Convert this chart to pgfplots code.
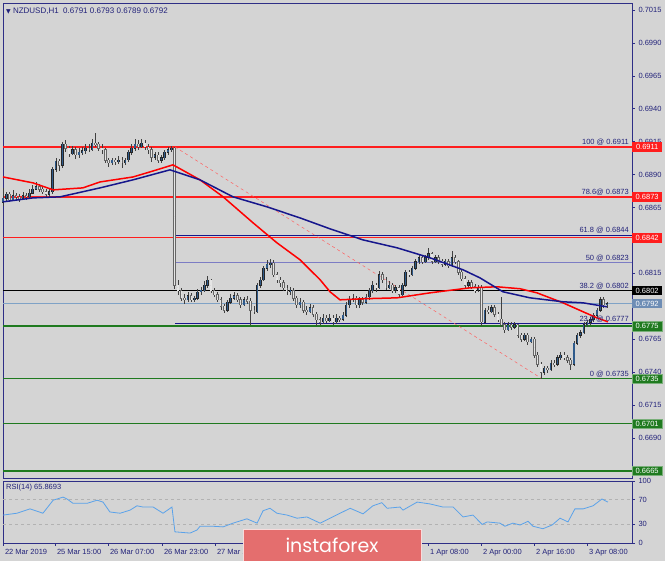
\documentclass[border=0pt]{standalone}
\usepackage{fontspec}
\setmainfont{Liberation Sans}
\newfontfamily\symfont{DejaVu Sans}
\newfontfamily\logofont{Poppins}
\usepackage{pgfplots}
\pgfplotsset{compat=1.18}
\usepackage{pgfplotstable}

\definecolor{bg}{HTML}{D4D4D4}
\definecolor{frame}{HTML}{2E2E86}
\definecolor{txt}{HTML}{22227A}
\definecolor{fibred}{HTML}{FF1E1E}
\definecolor{lvlgreen}{HTML}{1F7A1F}
\definecolor{maRed}{HTML}{FF0000}
\definecolor{maBlue}{HTML}{16168C}
\definecolor{lightline}{HTML}{7FA2C6}
\definecolor{lav}{HTML}{7C7CC4}
\definecolor{rsi}{HTML}{5AA2EA}
\definecolor{bull}{HTML}{2F5B8C}
\definecolor{logo}{HTML}{E46E6E}
\definecolor{boxblue}{HTML}{6E8DB5}

\pgfplotstableread{
i o h l c
0 0.6869 0.6880 0.6866 0.6872
1 0.6872 0.6877 0.6869 0.6875
2 0.6875 0.6877 0.6869 0.6871
3 0.6871 0.6878 0.6870 0.6874
4 0.6874 0.6876 0.6871 0.6873
5 0.6873 0.6875 0.6869 0.6872
6 0.6872 0.6877 0.6871 0.6874
7 0.6874 0.6876 0.6871 0.6873
8 0.6873 0.6879 0.6872 0.6876
9 0.6876 0.6882 0.6875 0.6879
10 0.6879 0.6884 0.6878 0.6881
11 0.6881 0.6883 0.6877 0.6879
12 0.6879 0.6881 0.6875 0.6877
13 0.6877 0.6879 0.6872 0.6875
14 0.6875 0.6880 0.6873 0.6877
15 0.6877 0.6896 0.6875 0.6894
16 0.6894 0.6903 0.6892 0.6900
17 0.6900 0.6902 0.6893 0.6897
18 0.6897 0.6915 0.6895 0.6913
19 0.6913 0.6916 0.6907 0.6910
20 0.6910 0.6912 0.6903 0.6906
21 0.6906 0.6912 0.6905 0.6909
22 0.6909 0.6911 0.6902 0.6905
23 0.6905 0.6910 0.6903 0.6907
24 0.6907 0.6911 0.6905 0.6908
25 0.6908 0.6913 0.6906 0.6910
26 0.6910 0.6913 0.6907 0.6909
27 0.6909 0.6917 0.6908 0.6914
28 0.6914 0.6922 0.6911 0.6913
29 0.6913 0.6915 0.6908 0.6910
30 0.6910 0.6913 0.6906 0.6909
31 0.6909 0.6910 0.6899 0.6901
32 0.6901 0.6903 0.6896 0.6899
33 0.6899 0.6903 0.6897 0.6901
34 0.6901 0.6903 0.6897 0.6900
35 0.6900 0.6904 0.6898 0.6901
36 0.6901 0.6903 0.6895 0.6899
37 0.6899 0.6903 0.6897 0.6901
38 0.6901 0.6909 0.6900 0.6907
39 0.6907 0.6913 0.6905 0.6910
40 0.6910 0.6917 0.6908 0.6913
41 0.6913 0.6916 0.6909 0.6911
42 0.6911 0.6917 0.6910 0.6914
43 0.6914 0.6916 0.6909 0.6911
44 0.6911 0.6913 0.6906 0.6909
45 0.6909 0.6911 0.6900 0.6903
46 0.6903 0.6907 0.6901 0.6905
47 0.6905 0.6907 0.6899 0.6901
48 0.6901 0.6905 0.6899 0.6903
49 0.6903 0.6909 0.6901 0.6907
50 0.6907 0.6911 0.6905 0.6909
51 0.6909 0.6912 0.6907 0.6910
52 0.6910 0.6911 0.6803 0.6806
53 0.6806 0.6810 0.6799 0.6802
54 0.6802 0.6804 0.6794 0.6796
55 0.6796 0.6799 0.6792 0.6795
56 0.6795 0.6801 0.6793 0.6798
57 0.6798 0.6800 0.6793 0.6795
58 0.6795 0.6798 0.6793 0.6796
59 0.6796 0.6803 0.6795 0.6801
60 0.6801 0.6805 0.6799 0.6802
61 0.6802 0.6809 0.6801 0.6806
62 0.6806 0.6813 0.6804 0.6810
63 0.6810 0.6811 0.6800 0.6802
64 0.6802 0.6804 0.6797 0.6799
65 0.6799 0.6801 0.6793 0.6795
66 0.6795 0.6797 0.6787 0.6790
67 0.6790 0.6792 0.6785 0.6787
68 0.6787 0.6795 0.6786 0.6793
69 0.6793 0.6799 0.6792 0.6796
70 0.6796 0.6801 0.6795 0.6798
71 0.6798 0.6800 0.6793 0.6795
72 0.6795 0.6797 0.6789 0.6791
73 0.6791 0.6797 0.6790 0.6795
74 0.6795 0.6798 0.6792 0.6794
75 0.6794 0.6796 0.6776 0.6787
76 0.6787 0.6790 0.6784 0.6786
77 0.6786 0.6808 0.6785 0.6806
78 0.6806 0.6812 0.6804 0.6810
79 0.6810 0.6821 0.6809 0.6819
80 0.6819 0.6825 0.6817 0.6822
81 0.6822 0.6826 0.6819 0.6823
82 0.6823 0.6825 0.6812 0.6814
83 0.6814 0.6816 0.6808 0.6810
84 0.6810 0.6812 0.6805 0.6808
85 0.6808 0.6810 0.6802 0.6804
86 0.6804 0.6806 0.6799 0.6801
87 0.6801 0.6805 0.6799 0.6802
88 0.6802 0.6804 0.6794 0.6796
89 0.6796 0.6798 0.6789 0.6791
90 0.6791 0.6796 0.6789 0.6793
91 0.6793 0.6795 0.6785 0.6787
92 0.6787 0.6790 0.6783 0.6786
93 0.6786 0.6792 0.6785 0.6789
94 0.6789 0.6791 0.6782 0.6784
95 0.6784 0.6786 0.6775 0.6780
96 0.6780 0.6782 0.6776 0.6778
97 0.6778 0.6784 0.6777 0.6781
98 0.6781 0.6783 0.6777 0.6779
99 0.6779 0.6784 0.6778 0.6781
100 0.6781 0.6783 0.6776 0.6778
101 0.6778 0.6784 0.6777 0.6781
102 0.6781 0.6783 0.6778 0.6780
103 0.6780 0.6786 0.6779 0.6783
104 0.6783 0.6793 0.6782 0.6791
105 0.6791 0.6798 0.6789 0.6795
106 0.6795 0.6799 0.6793 0.6796
107 0.6796 0.6798 0.6789 0.6791
108 0.6791 0.6797 0.6789 0.6795
109 0.6795 0.6797 0.6791 0.6793
110 0.6793 0.6799 0.6792 0.6797
111 0.6797 0.6804 0.6795 0.6802
112 0.6802 0.6809 0.6800 0.6806
113 0.6806 0.6808 0.6801 0.6804
114 0.6804 0.6817 0.6803 0.6814
115 0.6814 0.6816 0.6808 0.6810
116 0.6810 0.6812 0.6802 0.6804
117 0.6804 0.6809 0.6803 0.6806
118 0.6806 0.6808 0.6800 0.6802
119 0.6802 0.6806 0.6800 0.6804
120 0.6804 0.6806 0.6797 0.6799
121 0.6799 0.6808 0.6798 0.6806
122 0.6806 0.6818 0.6805 0.6816
123 0.6816 0.6818 0.6812 0.6814
124 0.6814 0.6821 0.6813 0.6819
125 0.6819 0.6826 0.6818 0.6824
126 0.6824 0.6830 0.6822 0.6827
127 0.6827 0.6829 0.6822 0.6824
128 0.6824 0.6829 0.6823 0.6827
129 0.6827 0.6834 0.6825 0.6830
130 0.6830 0.6831 0.6822 0.6824
131 0.6824 0.6829 0.6823 0.6827
132 0.6827 0.6829 0.6822 0.6824
133 0.6824 0.6826 0.6820 0.6822
134 0.6822 0.6826 0.6821 0.6824
135 0.6824 0.6826 0.6819 0.6821
136 0.6821 0.6832 0.6820 0.6827
137 0.6827 0.6829 0.6822 0.6824
138 0.6824 0.6825 0.6814 0.6816
139 0.6816 0.6818 0.6809 0.6811
140 0.6811 0.6813 0.6803 0.6806
141 0.6806 0.6810 0.6804 0.6808
142 0.6808 0.6810 0.6803 0.6805
143 0.6805 0.6807 0.6800 0.6802
144 0.6802 0.6806 0.6801 0.6804
145 0.6804 0.6806 0.6775 0.6778
146 0.6778 0.6789 0.6777 0.6787
147 0.6787 0.6790 0.6784 0.6786
148 0.6786 0.6791 0.6785 0.6789
149 0.6789 0.6791 0.6782 0.6784
150 0.6784 0.6786 0.6778 0.6780
151 0.6780 0.6797 0.6774 0.6776
152 0.6776 0.6778 0.6770 0.6772
153 0.6772 0.6778 0.6771 0.6776
154 0.6776 0.6778 0.6772 0.6774
155 0.6774 0.6778 0.6773 0.6776
156 0.6776 0.6777 0.6766 0.6768
157 0.6768 0.6770 0.6763 0.6765
158 0.6765 0.6770 0.6764 0.6768
159 0.6768 0.6770 0.6761 0.6763
160 0.6763 0.6767 0.6762 0.6765
161 0.6765 0.6767 0.6751 0.6753
162 0.6753 0.6755 0.6744 0.6746
163 0.6746 0.6748 0.6735 0.6740
164 0.6740 0.6745 0.6738 0.6743
165 0.6743 0.6745 0.6739 0.6742
166 0.6742 0.6749 0.6741 0.6747
167 0.6747 0.6749 0.6744 0.6746
168 0.6746 0.6753 0.6745 0.6751
169 0.6751 0.6755 0.6749 0.6753
170 0.6753 0.6755 0.6749 0.6751
171 0.6751 0.6753 0.6747 0.6749
172 0.6749 0.6751 0.6742 0.6746
173 0.6746 0.6764 0.6745 0.6762
174 0.6762 0.6770 0.6761 0.6768
175 0.6768 0.6772 0.6766 0.6770
176 0.6770 0.6778 0.6769 0.6776
177 0.6776 0.6780 0.6774 0.6778
178 0.6778 0.6782 0.6776 0.6780
179 0.6780 0.6785 0.6778 0.6783
180 0.6783 0.6789 0.6782 0.6787
181 0.6787 0.6797 0.6786 0.6795
182 0.6795 0.6797 0.6789 0.6791
183 0.6791 0.6793 0.6789 0.6792
}\candles

\newcommand{\lab}{\fontsize{7.5}{9}\selectfont}
\pgfplotsset{candlebase/.style={only marks, mark=none, mark size=0pt, forget plot, unbounded coords=discard,
  error bars/.cd, y dir=both, y explicit, error mark=none}}

\begin{document}
\begin{tikzpicture}
\fill[bg] (0pt,0pt) rectangle (665pt,561pt);
\useasboundingbox (0pt,0pt) rectangle (665pt,561pt);

% ---------------- main price panel ----------------
\begin{axis}[
  at={(3pt,83pt)}, anchor=south west, scale only axis,
  width=629pt, height=475pt,
  xmin=0, xmax=190.6, ymin=0.66596, ymax=0.70203,
  clip=false,
  axis line style={frame, line width=0.9pt},
  xtick=\empty,
  ytick={0.6690,0.6715,0.6740,0.6765,0.6790,0.6815,0.6840,0.6865,0.6890,0.6915,0.6940,0.6965,0.6990,0.7015},
  ytick pos=right, yticklabel pos=right, tick align=outside,
  major tick length=3pt,
  tick style={frame, line width=0.6pt},
  scaled y ticks=false,
  yticklabel style={font=\lab, text=txt, /pgf/number format/.cd, fixed, fixed zerofill, precision=4, assume math mode=true},
]
% horizontal levels
\addplot[fibred, line width=1.4pt] coordinates {(0,0.6911) (190.6,0.6911)};
\addplot[fibred, line width=1.4pt] coordinates {(0,0.6873) (190.6,0.6873)};
\addplot[fibred, line width=1.4pt] coordinates {(0,0.6842) (190.6,0.6842)};
\addplot[maBlue, line width=0.8pt] coordinates {(52.1,0.6844) (190.6,0.6844)};
\addplot[lav, line width=1.1pt] coordinates {(52.1,0.6823) (190.6,0.6823)};
\addplot[black, line width=1.3pt] coordinates {(0,0.6802) (190.6,0.6802)};
\addplot[lightline, line width=0.8pt] coordinates {(0,0.6792) (190.6,0.6792)};
\addplot[lvlgreen, line width=1.4pt] coordinates {(0,0.6775) (190.6,0.6775)};
\addplot[maBlue, line width=1pt] coordinates {(52.1,0.6777) (190.6,0.6777)};
\addplot[lvlgreen, line width=1.4pt] coordinates {(0,0.6735) (190.6,0.6735)};
\addplot[lvlgreen, line width=1.4pt] coordinates {(0,0.6701) (190.6,0.6701)};
\addplot[lvlgreen, line width=1.4pt] coordinates {(0,0.6665) (190.6,0.6665)};
\addplot[fibred!70, dashed, line width=0.5pt] coordinates {(52.1,0.6911) (163.3,0.6735)};

% wicks
\addplot[candlebase, error bar style={line width=0.6pt, draw=black!75}]
  table[x=i, y expr={(\thisrow{h}+\thisrow{l})/2}, y error expr={(\thisrow{h}-\thisrow{l})/2}] {\candles};
% bear bodies
\addplot[candlebase, error bar style={line width=2.5pt, draw=black!60}]
  table[x=i, y expr={\thisrow{c}<\thisrow{o} ? (\thisrow{o}+\thisrow{c})/2 : nan}, y error expr={(\thisrow{o}-\thisrow{c})/2+0.00003}] {\candles};
\addplot[candlebase, error bar style={line width=1.2pt, draw=white!90!black}]
  table[x=i, y expr={\thisrow{c}<\thisrow{o} ? (\thisrow{o}+\thisrow{c})/2 : nan}, y error expr={(\thisrow{o}-\thisrow{c})/2}] {\candles};
% bull bodies
\addplot[candlebase, error bar style={line width=2.5pt, draw=black!85}]
  table[x=i, y expr={\thisrow{c}<\thisrow{o} ? nan : (\thisrow{o}+\thisrow{c})/2}, y error expr={(\thisrow{c}-\thisrow{o})/2+0.00003}] {\candles};
\addplot[candlebase, error bar style={line width=1.2pt, draw=bull}]
  table[x=i, y expr={\thisrow{c}<\thisrow{o} ? nan : (\thisrow{o}+\thisrow{c})/2}, y error expr={(\thisrow{c}-\thisrow{o})/2}] {\candles};

% moving averages
\addplot[maRed, line width=1.5pt] coordinates {
(0,0.68882) (9.1,0.68837) (15.2,0.68784) (24.2,0.68799) (29.4,0.68844) (39.4,0.68882)
(44.5,0.68920) (51.5,0.68974) (59.7,0.68860) (66.7,0.68731) (75.8,0.68533) (83,0.68382)
(90,0.68253) (96.1,0.68101) (99.1,0.68010) (102.1,0.67949) (109.1,0.67957) (119.4,0.67964)
(129.4,0.68002) (141.5,0.68040) (149.7,0.68048) (156.7,0.68033) (161.8,0.68002)
(169.7,0.67926) (175.8,0.67858) (180,0.67812) (183.3,0.67782)};
\addplot[maBlue, line width=1.5pt] coordinates {
(0,0.68693) (9.1,0.68723) (17.3,0.68731) (29.4,0.68799) (39.4,0.68860) (50.6,0.68936)
(59.7,0.68860) (69.7,0.68731) (80,0.68655) (90,0.68571) (99.1,0.68488) (109.1,0.68404)
(119.4,0.68344) (129.4,0.68268) (139.4,0.68177) (144.5,0.68116) (151.5,0.68010)
(159.7,0.67964) (169.7,0.67934) (175.8,0.67926) (183,0.67896)};

% fibonacci texts
\begin{scope}[every node/.style={anchor=south east, font=\lab, text=txt, inner sep=1pt}]
\node at (axis cs:190,0.6911) {100 @ 0.6911};
\node at (axis cs:190,0.6873) {78.6@ 0.6873};
\node at (axis cs:190,0.6844) {61.8 @ 0.6844};
\node at (axis cs:190,0.6823) {50 @ 0.6823};
\node at (axis cs:190,0.6802) {38.2 @ 0.6802};
\node at (axis cs:190,0.6777) {23.6 @ 0.6777};
\node at (axis cs:190,0.6735) {0 @ 0.6735};
\end{scope}
\node[anchor=west, font=\fontsize{8}{9.5}\selectfont, text=txt, inner sep=0pt] at (axis cs:0.9,0.70142) {{\symfont\fontsize{6}{7}\selectfont ▼}\ NZDUSD,H1\ \ 0.6791 0.6793 0.6789 0.6792};

\coordinate (b1) at (axis cs:190.6,0.6911);
\coordinate (b2) at (axis cs:190.6,0.6873);
\coordinate (b3) at (axis cs:190.6,0.6842);
\coordinate (b4) at (axis cs:190.6,0.6802);
\coordinate (b5) at (axis cs:190.6,0.6792);
\coordinate (b6) at (axis cs:190.6,0.6775);
\coordinate (b7) at (axis cs:190.6,0.6735);
\coordinate (b8) at (axis cs:190.6,0.6701);
\coordinate (b9) at (axis cs:190.6,0.6665);
\end{axis}

% price boxes
\begin{scope}[every node/.style={anchor=west, font=\lab, text=white, inner sep=1pt, minimum width=30pt, minimum height=9.5pt, text depth=0pt, align=left}]
\node[fill=fibred] at (b1) {0.6911};
\node[fill=fibred] at (b2) {0.6873};
\node[fill=fibred] at (b3) {0.6842};
\node[fill=black] at (b4) {0.6802};
\node[fill=boxblue] at (b5) {0.6792};
\node[fill=lvlgreen, draw=lvlgreen!60!white] at (b6) {0.6775};
\node[fill=lvlgreen, draw=lvlgreen!60!white] at (b7) {0.6735};
\node[fill=lvlgreen, draw=lvlgreen!60!white] at (b8) {0.6701};
\node[fill=lvlgreen, draw=lvlgreen!60!white] at (b9) {0.6665};
\end{scope}

% ---------------- RSI panel ----------------
\begin{axis}[
  at={(3pt,18pt)}, anchor=south west, scale only axis,
  width=629pt, height=62pt,
  xmin=0, xmax=190.6, ymin=0, ymax=100,
  clip=false,
  axis line style={frame, line width=0.9pt},
  ytick={0,30,70,100},
  ytick pos=right, yticklabel pos=right, tick align=outside,
  major tick length=3pt,
  tick style={frame, line width=0.6pt},
  yticklabel style={font=\lab, text=txt, /pgf/number format/assume math mode=true},
  xtick={0,15.76,31.82,48.18,64.24,80.3,96.36,112.42,128.79,144.85,160.91,176.97},
  xticklabels={22 Mar 2019,25 Mar 15:00,26 Mar 07:00,26 Mar 23:00,27 Mar 15:00,28 Mar 07:00,28 Mar 23:00,29 Mar 15:00,1 Apr 08:00,2 Apr 00:00,2 Apr 16:00,3 Apr 08:00},
  xtick pos=lower,
  xticklabel style={font=\lab, text=txt, anchor=north west, xshift=-1.5pt},
]
\addplot[black!30, dashed, line width=0.5pt] coordinates {(0,70) (190.6,70)};
\addplot[black!30, dashed, line width=0.5pt] coordinates {(0,30) (190.6,30)};
\addplot[rsi, line width=0.8pt] coordinates {
(0,45) (4.2,48) (8.2,55) (12.1,48) (15.2,69) (18.2,74) (19.4,71) (21.2,64) (25.5,64)
(28.5,69) (30.3,66) (32.4,50) (35.5,48) (38.5,53) (40.6,60) (42.4,58) (45.5,58) (48.5,48)
(51.2,58) (52.1,18) (56.7,16) (58.8,21) (59.7,27) (63.6,27) (66.7,26) (69.7,32) (73.9,39)
(77,32) (78.8,52) (80.9,56) (83,48) (86.1,45) (89.1,40) (92.1,42) (96.1,32) (99.1,40)
(105.2,56) (109.1,47) (112.1,60) (114.8,65) (116.4,56) (120.3,58) (121.2,53) (125.5,66)
(129.4,63) (133.3,58) (136.4,58) (139.4,42) (142.4,45) (145.2,30) (146.7,34) (150.6,32)
(152.1,27) (154.5,32) (156.7,29) (159.1,35) (160.6,27) (163.6,23) (166.4,29) (168.8,40)
(171.2,34) (173.3,55) (175.8,55) (178.8,60) (181.5,71) (183.3,65.9)};
\node[anchor=north west, font=\lab, text=txt, inner sep=0pt] at (axis cs:0.9,96) {RSI(14) 65.8693};
\end{axis}

% logo
\fill[logo] (243pt,0pt) rectangle (422pt,32pt);
\draw[white!75!logo, line width=0.8pt] (243.4pt,0pt) -- (243.4pt,31.6pt) -- (421.6pt,31.6pt) -- (421.6pt,0pt);
\node[text=white, font=\logofont\fontsize{19}{22}\selectfont, inner sep=0pt] at (332pt,16pt) {instaforex};
\end{tikzpicture}
\end{document}
